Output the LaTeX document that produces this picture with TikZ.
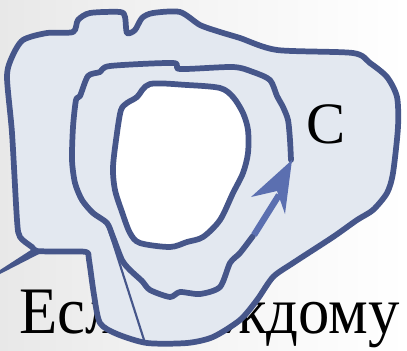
\documentclass[tikz,border=0pt]{standalone}
\usepackage{fontspec}
\setmainfont{Liberation Serif}
\definecolor{rim}{HTML}{46568A}
\definecolor{sheet}{HTML}{E3E8F0}
\definecolor{arrowblue}{HTML}{5B6FB0}
\begin{document}
\begin{tikzpicture}[x=0.75pt, y=-0.75pt, line join=round, line cap=round]
  \tikzset{rimline/.style={draw=rim, line width=4.3pt}}
  \useasboundingbox (0,0) rectangle (407,350);
  \shade[left color=black!9, right color=white, middle color=white!96!black] (0,0) rectangle (407,350);
  \node[anchor=base west, inner sep=0pt, yscale=1.06, font=\fontsize{47}{48}\selectfont] (phrase) at (19,333) {Если каждому};
  % the sheet, with its cut to the left
  \fill[rim] (34,248) -- (0,270) -- (0,274) -- (39,254) -- cycle;
  \filldraw[rimline, fill=sheet] plot[smooth cycle, tension=0.45] coordinates {
    (47,33) (73,32) (78,20) (90,13) (120,12) (125,17) (127,33) (135,30) (142,18)
    (153,13) (180,12) (200,25) (220,32) (240,38) (277,50) (353,53) (370,63)
    (387,77) (397,97) (398,127) (393,173) (387,193) (373,210) (357,220)
    (333,237) (293,263) (273,277) (257,300) (240,320) (213,337) (187,343)
    (147,343) (117,334) (100,323) (94,295) (89,260) (86,252) (60,251.5)
    (37,251) (32,247) (20,237) (17,220) (12,133) (7,77) (12,57) (23,40)};
  % the path C round the hole
  \draw[rimline] plot[smooth, tension=0.45] coordinates {
    (291,160) (290,140) (288,120) (283,107) (277,96) (270,80) (253,72)
    (233,67) (180,69) (173,63) (110,66) (100,72) (88,76) (80,96) (76,100)
    (73,127) (72,160) (75,183) (82,200) (93,213) (107,223) (113,237)
    (122,260) (130,270) (142,281) (150,290) (170,297) (180,292) (200,294)
    (220,287) (230,263) (240,253) (253,236)};
  \draw[draw=rim, line width=1.6pt] (107,224) -- (145,343);
  % the hole
  \filldraw[rimline, fill=white] plot[smooth cycle, tension=0.5] coordinates {
    (150,84) (187,85) (220,88) (233,97) (243,113) (248,130) (248,153)
    (243,173) (233,193) (220,220) (203,237) (187,242) (170,247) (140,243)
    (130,233) (122,212) (115,190) (113,167) (117,133) (121,110) (127,103)
    (137,97)};
  % arrow on C
  \draw[arrowblue, line width=4.8pt, line cap=butt] (254,235) -- (279,195);
  \fill[arrowblue] (292,160) -- (251,197) -- (277,191) -- (285,214) -- cycle;
  \node[font=\fontsize{44}{44}\selectfont] (labelC) at (326,124) {C};
\end{tikzpicture}
\end{document}
